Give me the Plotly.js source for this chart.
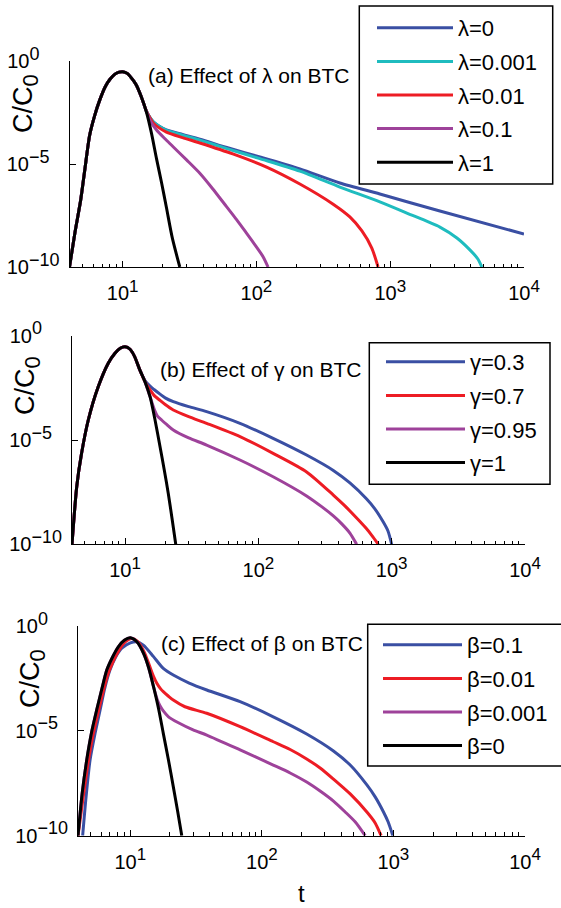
<!DOCTYPE html>
<html><head><meta charset="utf-8">
<script src="https://cdn.plot.ly/plotly-3.0.1.min.js"></script>
<style>html,body{margin:0;padding:0;background:#fff}</style>
</head><body><div id="chart" style="width:561px;height:908px"></div>
<script>
// ---------- Panel (a): effect of lambda ----------
const tRiseA = [4, 4.4, 4.85, 5.2, 5.66, 6.2, 6.73, 7.4, 8.0, 8.7, 9.4, 10, 10.8, 11.6, 12.6, 13.7];
const cRiseA = [1e-10, 5.0e-9, 1.78e-7, 5.0e-6, 2.5e-4, 2.5e-3, 1.26e-2, 5.6e-2, 0.126, 0.224, 0.288, 0.302, 0.251, 0.151, 0.0708, 0.02];
const tA_l0 = [15, 16, 17, 18.5, 21.2, 28, 37.7, 60, 106, 211, 420, 836, 2350, 10000];
const cA_l0 = [3.8e-3, 1.78e-3, 1.07e-3, 7.1e-4, 4.47e-4, 2.7e-4, 1.62e-4, 6.3e-5, 2.19e-5, 5.75e-6, 1.2e-6, 3.5e-7, 5.2e-8, 3.98e-9];
const tA_l0001 = [15, 16, 17, 18.5, 21.2, 28, 37.7, 60, 106, 211, 420, 836, 1330, 2350, 3150, 3940, 4520, 4840];
const cA_l0001 = [3.8e-3, 1.78e-3, 1.07e-3, 7.1e-4, 4.27e-4, 2.51e-4, 1.45e-4, 5.6e-5, 1.82e-5, 4.47e-6, 7.6e-7, 1.45e-7, 4.17e-8, 8.7e-9, 2.57e-9, 6.8e-10, 2.45e-10, 1e-10];
const tA_l001 = [15, 16, 16.9, 18.5, 21.2, 28, 37.7, 66.5, 119, 211, 372, 499, 614, 728, 811];
const cA_l001 = [3.8e-3, 1.70e-3, 9.8e-4, 6.0e-4, 3.55e-4, 1.91e-4, 1.05e-4, 3.09e-5, 7.08e-6, 1.07e-6, 1.15e-7, 2.69e-8, 5.6e-9, 8.3e-10, 1e-10];
const tA_l01 = [15, 16.2, 17.9, 20.5, 23.8, 30, 37.7, 47, 59.7, 71, 84.2, 98, 112, 122];
const cA_l01 = [3.72e-3, 1.12e-3, 4.47e-4, 1.78e-4, 6.9e-5, 1.58e-5, 3.55e-6, 6.3e-7, 8.5e-8, 2.0e-8, 4.4e-9, 1.12e-9, 3.16e-10, 1e-10];
const tA_l1 = [15, 16.4, 17.9, 19.5, 21.2, 23.5, 26.7];
const cA_l1 = [3.55e-3, 3.16e-4, 1.78e-5, 1.26e-6, 7.9e-8, 2.5e-9, 1e-10];
const namesA = ['λ=0', 'λ=0.001', 'λ=0.01', 'λ=0.1', 'λ=1'];

// ---------- Panel (b): effect of gamma ----------
const tRiseB = [4, 4.34, 4.72, 5.3, 6.3, 7.48, 8.4, 9.2, 10, 10.9, 11.8, 12.9];
const cRiseB = [1e-10, 5.75e-8, 2.29e-6, 9.1e-5, 3.63e-3, 4.79e-2, 0.145, 0.251, 0.295, 0.224, 0.1, 2.29e-2];
const tB_g03 = [14.1, 15.4, 16.5, 18.3, 20, 23, 30, 40.9, 72.8, 129, 230, 365, 486, 649, 750, 865, 938, 1000];
const cB_g03 = [7.08e-3, 3.8e-3, 2.63e-3, 1.58e-3, 1.05e-3, 6.9e-4, 3.98e-4, 2.29e-4, 6.3e-5, 1.2e-5, 1.9e-6, 3.47e-7, 8.7e-8, 1.48e-8, 4.9e-9, 1.17e-9, 4.37e-10, 1e-10];
const tB_g07 = [14.1, 15.4, 16.5, 18.3, 20, 23, 30, 40.9, 72.8, 129, 230, 365, 446, 546, 641, 711, 794];
const cB_g07 = [6.3e-3, 2.51e-3, 1.38e-3, 7.9e-4, 5.0e-4, 2.75e-4, 1.32e-4, 6.3e-5, 1.45e-5, 2.29e-6, 2.95e-7, 2.29e-8, 6.9e-9, 1.82e-9, 6.0e-10, 2.63e-10, 1e-10];
const tB_g095 = [14.1, 15.4, 16.5, 17.5, 18.8, 20.5, 23, 30, 40.9, 72.8, 129, 230, 300, 365, 424, 486, 546];
const cB_g095 = [6.3e-3, 1.2e-3, 3.16e-4, 1.41e-4, 9.1e-5, 5.6e-5, 3.02e-5, 1.26e-5, 5.75e-6, 1.1e-6, 1.74e-7, 2.09e-8, 6.2e-9, 2.29e-9, 9.3e-10, 3.47e-10, 1e-10];
const tB_g1 = [14.1, 15.4, 16.8, 18.3, 19.7, 21.1, 22.5, 24];
const cB_g1 = [6.3e-3, 1.2e-3, 8.9e-5, 4.79e-6, 3.55e-7, 2.75e-8, 1.78e-9, 1e-10];
const namesB = ['γ=0.3', 'γ=0.7', 'γ=0.95', 'γ=1'];

// ---------- Panel (c): effect of beta ----------
const tRiseC = [4, 4.3, 4.66, 5.1, 5.55, 6.1, 6.62, 7.3, 8.1, 9, 10, 11.2, 12.6, 13.8, 15];
const cRiseC = [1e-10, 1e-8, 4.07e-7, 1e-5, 1e-4, 1.12e-3, 7.9e-3, 3.16e-2, 0.102, 0.209, 0.275, 0.178, 0.0501, 0.01, 1.29e-3];
const tC_b01 = [4.34, 4.6, 4.94, 5.4, 5.89, 6.4, 7.0, 7.7, 8.6, 10, 11.2, 12.56, 15, 17.8, 21.2, 28, 38.1, 68.3, 122, 219, 350, 469, 628, 726, 840, 912, 989];
const cC_b01 = [1e-10, 6.3e-9, 4.07e-7, 7.9e-6, 1e-4, 1.12e-3, 7.9e-3, 3.16e-2, 0.087, 0.158, 0.178, 0.123, 0.0347, 9.5e-3, 4.57e-3, 1.91e-3, 8.9e-4, 2.45e-4, 4.68e-5, 7.1e-6, 1.1e-6, 2.34e-7, 2.63e-8, 7.1e-9, 1.35e-9, 4.47e-10, 1e-10];
const tC_b001 = [4, 4.35, 4.75, 5.2, 5.65, 6.2, 6.75, 7.45, 8.3, 9.2, 10.2, 11.3, 12.7, 13.9, 15, 15.9, 17, 17.8, 19.5, 21.2, 26, 38.1, 68.3, 122, 164, 219, 277, 350, 469, 628, 726, 806];
const cC_b001 = [1e-10, 5.0e-9, 2.51e-7, 6.3e-6, 6.3e-5, 7.1e-4, 5.0e-3, 2.24e-2, 7.9e-2, 0.178, 0.251, 0.191, 0.0603, 0.0141, 3.98e-3, 1.86e-3, 1e-3, 7.4e-4, 4.47e-4, 2.95e-4, 1.41e-4, 6.9e-5, 1.58e-5, 3.02e-6, 1.29e-6, 4.57e-7, 1.7e-7, 5.0e-8, 9.8e-9, 1.35e-9, 4.07e-10, 1e-10];
const tC_b0001 = [16, 16.8, 17.8, 19.5, 23, 30, 38.1, 68.3, 122, 164, 219, 277, 350, 430, 513, 610];
const cC_b0001 = [3.16e-4, 1.58e-4, 8.9e-5, 4.68e-5, 2.51e-5, 1.12e-5, 6.3e-6, 1.23e-6, 2.34e-7, 9.8e-8, 3.63e-8, 1.35e-8, 4.47e-9, 1.35e-9, 4.47e-10, 1e-10];
const tC_b0 = [16.4, 17.8, 19.5, 21.2, 22.9, 24.6];
const cC_b0 = [1.12e-4, 7.6e-6, 3.98e-7, 2.19e-8, 1.41e-9, 1e-10];
const namesC = ['β=0.1', 'β=0.01', 'β=0.001', 'β=0'];

// ---------- axis ticks ----------
const xTickVals = [10, 100, 1000, 10000];
const xTickExp = ['1', '2', '3', '4'];
const yTickVals = [1e-10, 1e-5, 1];
const yTickExp = ['−10', '−5\u00a0\u00a0', '0\u00a0\u00a0\u00a0\u00a0'];

const COLORS = {blue: '#3a4fa3', cyan: '#1fbcbf', red: '#ed1c24', purple: '#9e429a', black: '#000000'};
const FONT = 'Liberation Sans, Arial, Helvetica, sans-serif';
const W = 561, H = 908;
const px = v => v / W, py = v => 1 - v / H;
const sup = (s, sz) => '<sup><span style="font-size:' + sz + 'px">' + s + '</span></sup>';

const minorVals = [];
for (let d = 0; d < 4; d++) for (let k = 2; k < 10; k++) { const v = k * Math.pow(10, d); if (v > 4 && v < 1e4) minorVals.push(v); }

function tr(x, y, name, color, xa, ya, leg) {
  return {x: x, y: y, name: name, type: 'scatter', mode: 'lines', xaxis: xa, yaxis: ya, legend: leg,
    legendgroup: leg + name, line: {color: color, width: 3, shape: 'spline', smoothing: 0.7}, hoverinfo: 'skip'};
}
const cat = (a, b) => a.concat(b);

const data = [
  tr(cat(tRiseA, tA_l0), cat(cRiseA, cA_l0), namesA[0], COLORS.blue, 'x', 'y', 'legend'),
  tr(cat(tRiseA, tA_l0001), cat(cRiseA, cA_l0001), namesA[1], COLORS.cyan, 'x', 'y', 'legend'),
  tr(cat(tRiseA, tA_l001), cat(cRiseA, cA_l001), namesA[2], COLORS.red, 'x', 'y', 'legend'),
  tr(cat(tRiseA, tA_l01), cat(cRiseA, cA_l01), namesA[3], COLORS.purple, 'x', 'y', 'legend'),
  tr(cat(tRiseA, tA_l1), cat(cRiseA, cA_l1), namesA[4], COLORS.black, 'x', 'y', 'legend'),

  tr(cat(tRiseB, tB_g03), cat(cRiseB, cB_g03), namesB[0], COLORS.blue, 'x2', 'y2', 'legend2'),
  tr(cat(tRiseB, tB_g07), cat(cRiseB, cB_g07), namesB[1], COLORS.red, 'x2', 'y2', 'legend2'),
  tr(cat(tRiseB, tB_g095), cat(cRiseB, cB_g095), namesB[2], COLORS.purple, 'x2', 'y2', 'legend2'),
  tr(cat(tRiseB, tB_g1), cat(cRiseB, cB_g1), namesB[3], COLORS.black, 'x2', 'y2', 'legend2'),

  tr(tC_b01, cC_b01, namesC[0], COLORS.blue, 'x3', 'y3', 'legend3'),
  tr(tC_b001, cC_b001, namesC[1], COLORS.red, 'x3', 'y3', 'legend3'),
  tr(cat(tRiseC, tC_b0001), cat(cRiseC, cC_b0001), namesC[2], COLORS.purple, 'x3', 'y3', 'legend3'),
  tr(cat(tRiseC, tC_b0), cat(cRiseC, cC_b0), namesC[3], COLORS.black, 'x3', 'y3', 'legend3')
];

const tickFont = {family: FONT, size: 20, color: '#000'};
function xax(dom, anchor) {
  return {domain: dom, anchor: anchor, type: 'log', range: [Math.log10(4), 4], showline: true, linecolor: '#000', linewidth: 1,
    ticks: 'inside', ticklen: 6, tickwidth: 1, tickcolor: '#000', tickmode: 'array', tickvals: xTickVals,
    ticktext: xTickExp.map(e => '10' + sup(e, 17)), showgrid: false, zeroline: false, tickfont: tickFont,
    ticklabelstandoff: 8,
    minor: {tickmode: 'array', tickvals: minorVals, ticks: 'inside', ticklen: 3.5, tickwidth: 1, tickcolor: '#000', showgrid: false}};
}
function yax(dom, anchor) {
  return {domain: dom, anchor: anchor, type: 'log', range: [-10, 0], showline: true, linecolor: '#000', linewidth: 1,
    ticks: 'inside', ticklen: 6, tickwidth: 1, tickcolor: '#000', tickmode: 'array', tickvals: yTickVals,
    ticktext: yTickExp.map(e => '10' + sup(e, 18)), showgrid: false, zeroline: false, tickfont: tickFont,
    ticklabelstandoff: 5};
}
function leg(x, y, iw) {
  return {x: px(x), y: py(y), xanchor: 'left', yanchor: 'top', bgcolor: 'rgba(0,0,0,0)', borderwidth: 0,
    font: {family: FONT, size: 22, color: '#000'}, itemwidth: iw, traceorder: 'grouped', tracegroupgap: 2};
}
function box(x0, y0, x1, y1) {
  return {type: 'rect', xref: 'paper', yref: 'paper', x0: px(x0), x1: px(x1), y0: py(y1), y1: py(y0),
    line: {color: '#000', width: 1.5}, fillcolor: 'rgba(0,0,0,0)', layer: 'above'};
}
function ann(text, x, y, opts) {
  return Object.assign({text: text, x: px(x), y: py(y), xref: 'paper', yref: 'paper', showarrow: false,
    xanchor: 'left', yanchor: 'middle', font: {family: FONT, size: 21, color: '#000'}}, opts || {});
}
const ylab = 'C/C<sub><span style="font-size:22px">0</span></sub>';
const ylabFont = {family: FONT, size: 27, color: '#000'};

const layout = {
  width: W, height: H, margin: {l: 0, r: 0, t: 0, b: 0}, paper_bgcolor: '#fff', plot_bgcolor: 'rgba(0,0,0,0)',
  showlegend: true, font: {family: FONT, size: 20, color: '#000'},
  xaxis: xax([px(69.5), px(524)], 'y'), yaxis: yax([py(267), py(61)], 'x'),
  xaxis2: xax([px(72), px(525)], 'y2'), yaxis2: yax([py(544.3), py(335.7)], 'x2'),
  xaxis3: xax([px(78), px(525)], 'y3'), yaxis3: yax([py(835.7), py(626)], 'x3'),
  legend: leg(372, 7, 76), legend2: leg(381, 341, 79), legend3: leg(378, 624, 79),
  shapes: [box(359.3, 6, 552.7, 184), box(369.3, 342.7, 550, 484.3), box(367.7, 624.3, 564, 766)],
  annotations: [
    ann('(a) Effect of λ on BTC', 146, 75),
    ann('(b) Effect of γ on BTC', 158, 370),
    ann('(c) Effect of β on BTC', 159, 643),
    ann(ylab, 25, 104, {textangle: -90, xanchor: 'center', font: ylabFont}),
    ann(ylab, 27, 386, {textangle: -90, xanchor: 'center', font: ylabFont}),
    ann(ylab, 32, 678, {textangle: -90, xanchor: 'center', font: ylabFont}),
    ann('t', 301.5, 893, {xanchor: 'center', font: {family: FONT, size: 24, color: '#000'}})
  ]
};

Plotly.newPlot('chart', data, layout, {displayModeBar: false, staticPlot: true});
</script></body></html>
